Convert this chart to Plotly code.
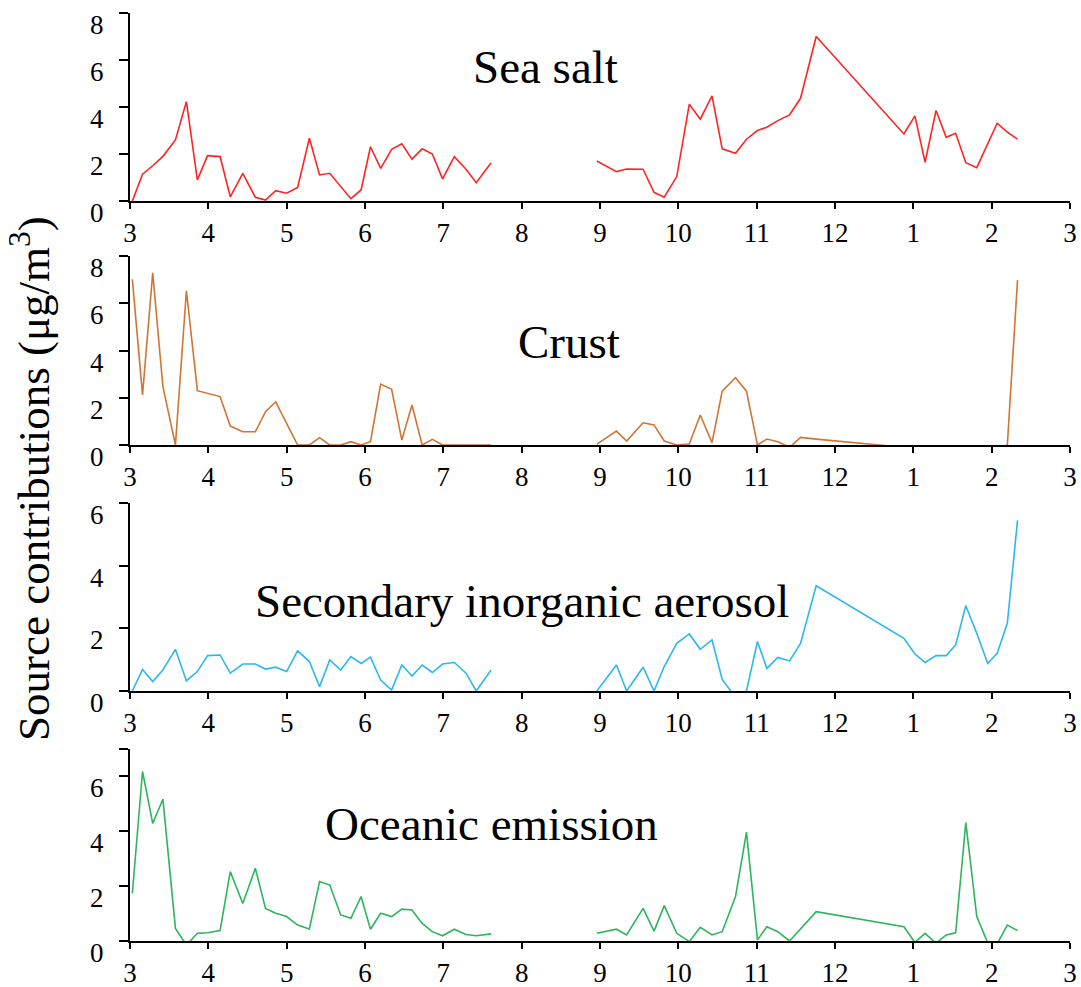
import plotly.graph_objects as go

# x positions in months since the "3" tick (March); 12 = following March
x_spring = [0.03, 0.16, 0.29, 0.42, 0.58, 0.72, 0.86, 0.99, 1.15, 1.28, 1.44, 1.60,
            1.73, 1.86, 2.00, 2.14, 2.29, 2.42, 2.55, 2.69, 2.82, 2.95, 3.07, 3.20,
            3.34, 3.47, 3.60, 3.73, 3.86, 3.99, 4.14, 4.29, 4.42, 4.61]
x_autumn = [5.96, 6.21, 6.34, 6.55, 6.69, 6.82, 6.98, 7.14, 7.28, 7.43, 7.56, 7.73,
            7.87, 8.01, 8.13, 8.27, 8.42, 8.56, 8.76, 9.88, 10.02, 10.15, 10.29, 10.42,
            10.54, 10.67, 10.81, 10.95, 11.07, 11.20, 11.33]

tick_pos = list(range(13))
tick_text = ["3", "4", "5", "6", "7", "8", "9", "10", "11", "12", "1", "2", "3"]

sea_salt_a = [0.0, 1.14, 1.5, 1.9, 2.6, 4.23, 0.9, 1.93, 1.89, 0.18, 1.18, 0.16,
              0.04, 0.44, 0.33, 0.58, 2.67, 1.11, 1.18, 0.61, 0.1, 0.47, 2.31, 1.39,
              2.2, 2.43, 1.78, 2.22, 2.0, 0.94, 1.89, 1.35, 0.78, 1.63]
sea_salt_b = [1.70, 1.25, 1.36, 1.35, 0.37, 0.16, 1.04, 4.12, 3.48, 4.47, 2.22, 2.03,
              2.63, 3.0, 3.14, 3.42, 3.66, 4.37, 7.0, 2.85, 3.62, 1.65, 3.85, 2.71,
              2.88, 1.63, 1.42, 2.4, 3.31, 2.93, 2.63]

crust_a = [7.01, 2.12, 7.29, 2.47, 0.0, 6.53, 2.3, 2.19, 2.05, 0.80, 0.56, 0.56,
           1.41, 1.83, 0.9, 0.0, 0.0, 0.31, 0.0, 0.0, 0.14, 0.0, 0.14, 2.58,
           2.36, 0.21, 1.69, 0.0, 0.24, 0.0, 0.0, 0.0, 0.0, 0.0]
crust_b = [0.04, 0.59, 0.17, 0.94, 0.85, 0.17, 0.0, 0.04, 1.27, 0.1, 2.28, 2.85,
           2.28, 0.0, 0.25, 0.14, -0.1, 0.32, 0.25, -0.1, -0.2, -0.3, -0.2, -0.3,
           -0.2, -0.3, -0.2, -0.3, -0.2, 0.0, 6.98]

sia_a = [0.0, 0.69, 0.30, 0.67, 1.33, 0.32, 0.62, 1.13, 1.15, 0.57, 0.86, 0.86,
         0.70, 0.76, 0.62, 1.28, 0.94, 0.14, 0.99, 0.67, 1.10, 0.88, 1.08, 0.35,
         0.03, 0.83, 0.48, 0.83, 0.59, 0.86, 0.91, 0.57, 0.0, 0.67]
sia_b = [0.0, 0.83, 0.0, 0.76, 0.0, 0.78, 1.52, 1.82, 1.33, 1.63, 0.37, -0.2,
         0.0, 1.58, 0.72, 1.07, 0.96, 1.52, 3.36, 1.68, 1.18, 0.91, 1.13, 1.13,
         1.47, 2.72, 1.84, 0.88, 1.2, 2.16, 5.45]

oceanic_a = [1.74, 6.18, 4.29, 5.17, 0.46, -0.15, 0.28, 0.30, 0.38, 2.53, 1.37, 2.65,
             1.19, 1.01, 0.89, 0.58, 0.44, 2.17, 2.04, 0.95, 0.83, 1.62, 0.43, 1.01,
             0.89, 1.16, 1.13, 0.64, 0.34, 0.19, 0.43, 0.24, 0.19, 0.26]
oceanic_b = [0.28, 0.43, 0.22, 1.19, 0.36, 1.29, 0.28, -0.02, 0.50, 0.22, 0.34, 1.62,
             3.97, 0.04, 0.52, 0.34, 0.0, 0.44, 1.07, 0.52, -0.05, 0.28, -0.08, 0.22,
             0.30, 4.32, 0.89, -0.07, -0.1, 0.58, 0.38]

panels = [
    ("Sea salt", sea_salt_a, sea_salt_b, "#FF2424", [0, 8], [0, 2, 4, 6, 8], [0, 2, 4, 6, 8]),
    ("Crust", crust_a, crust_b, "#D07535", [0, 8], [0, 2, 4, 6, 8], [0, 2, 4, 6, 8]),
    ("Secondary inorganic aerosol", sia_a, sia_b, "#2BB8EE", [0, 6], [0, 2, 4, 6], [0, 2, 4, 6]),
    ("Oceanic emission", oceanic_a, oceanic_b, "#2DB55D", [0, 7], [0, 2, 4, 6, 7], [0, 2, 4, 6]),
]

H = 987.0
rows_px = [(13, 201), (256, 445), (503, 691), (749, 941)]
label_px = [(545, 67), (569, 342), (522, 601), (491, 824)]

L, R = 130, 11
W_plot = 1081 - L - R

FONT = "Liberation Serif"
TICK_SIZE = 27
fig = go.Figure()
layout = dict(
    width=1081, height=987,
    margin=dict(l=L, r=R, t=0, b=0, autoexpand=False),
    paper_bgcolor="white", plot_bgcolor="white",
    showlegend=False,
    font=dict(family=FONT, color="black"),
)
annotations = []
for i, (name, ya, yb, color, yr, tv, labeled) in enumerate(panels):
    n = i + 1
    xa = "x" if n == 1 else f"x{n}"
    ya_ref = "y" if n == 1 else f"y{n}"
    for xs, ys in ((x_spring, ya), (x_autumn, yb)):
        fig.add_trace(go.Scatter(x=xs, y=ys, mode="lines", xaxis=xa, yaxis=ya_ref,
                                 line=dict(color=color, width=1.6), hoverinfo="skip"))
    top, bot = rows_px[i]
    dom = [1 - bot / H, 1 - top / H]
    layout[f"xaxis{'' if n == 1 else n}"] = dict(
        domain=[0, 1], anchor=ya_ref, range=[0, 12], tickvals=tick_pos, ticktext=tick_text,
        showline=True, linecolor="black", linewidth=2, ticks="outside", ticklen=6,
        tickwidth=2, tickcolor="black", showgrid=False, zeroline=False,
        tickfont=dict(family=FONT, size=TICK_SIZE, color="black"), ticklabelstandoff=1,
        fixedrange=True,
    )
    layout[f"yaxis{'' if n == 1 else n}"] = dict(
        domain=dom, anchor=xa, range=yr, tickvals=tv, showticklabels=False,
        showline=True, linecolor="black", linewidth=2, ticks="outside", ticklen=9,
        tickwidth=2, tickcolor="black", showgrid=False, zeroline=False,
        fixedrange=True,
    )
    # y tick labels (set slightly below their ticks, as in the reference)
    for v in labeled:
        annotations.append(dict(
            text=str(v), xref="paper", yref=ya_ref, x=0, y=v,
            xanchor="right", yanchor="middle", xshift=-24, yshift=-12,
            showarrow=False, font=dict(family=FONT, size=TICK_SIZE, color="black"),
        ))
    px_, py_ = label_px[i]
    annotations.append(dict(
        text=name, xref="paper", yref="paper", x=(px_ - L) / W_plot, y=1 - py_ / H,
        xanchor="center", yanchor="middle", showarrow=False,
        font=dict(family=FONT, size=47, color="black"),
    ))

annotations.append(dict(
    text="Source contributions (μg/m<sup>3</sup>)", xref="paper", yref="paper",
    x=(30 - L) / W_plot, y=1 - 479 / H, xanchor="center", yanchor="middle",
    textangle=-90, showarrow=False, font=dict(family=FONT, size=45, color="black"),
))
layout["annotations"] = annotations
fig.update_layout(**layout)
fig.write_html("out.html", config={"displayModeBar": False},
               post_script="document.body.style.margin='0px';")
